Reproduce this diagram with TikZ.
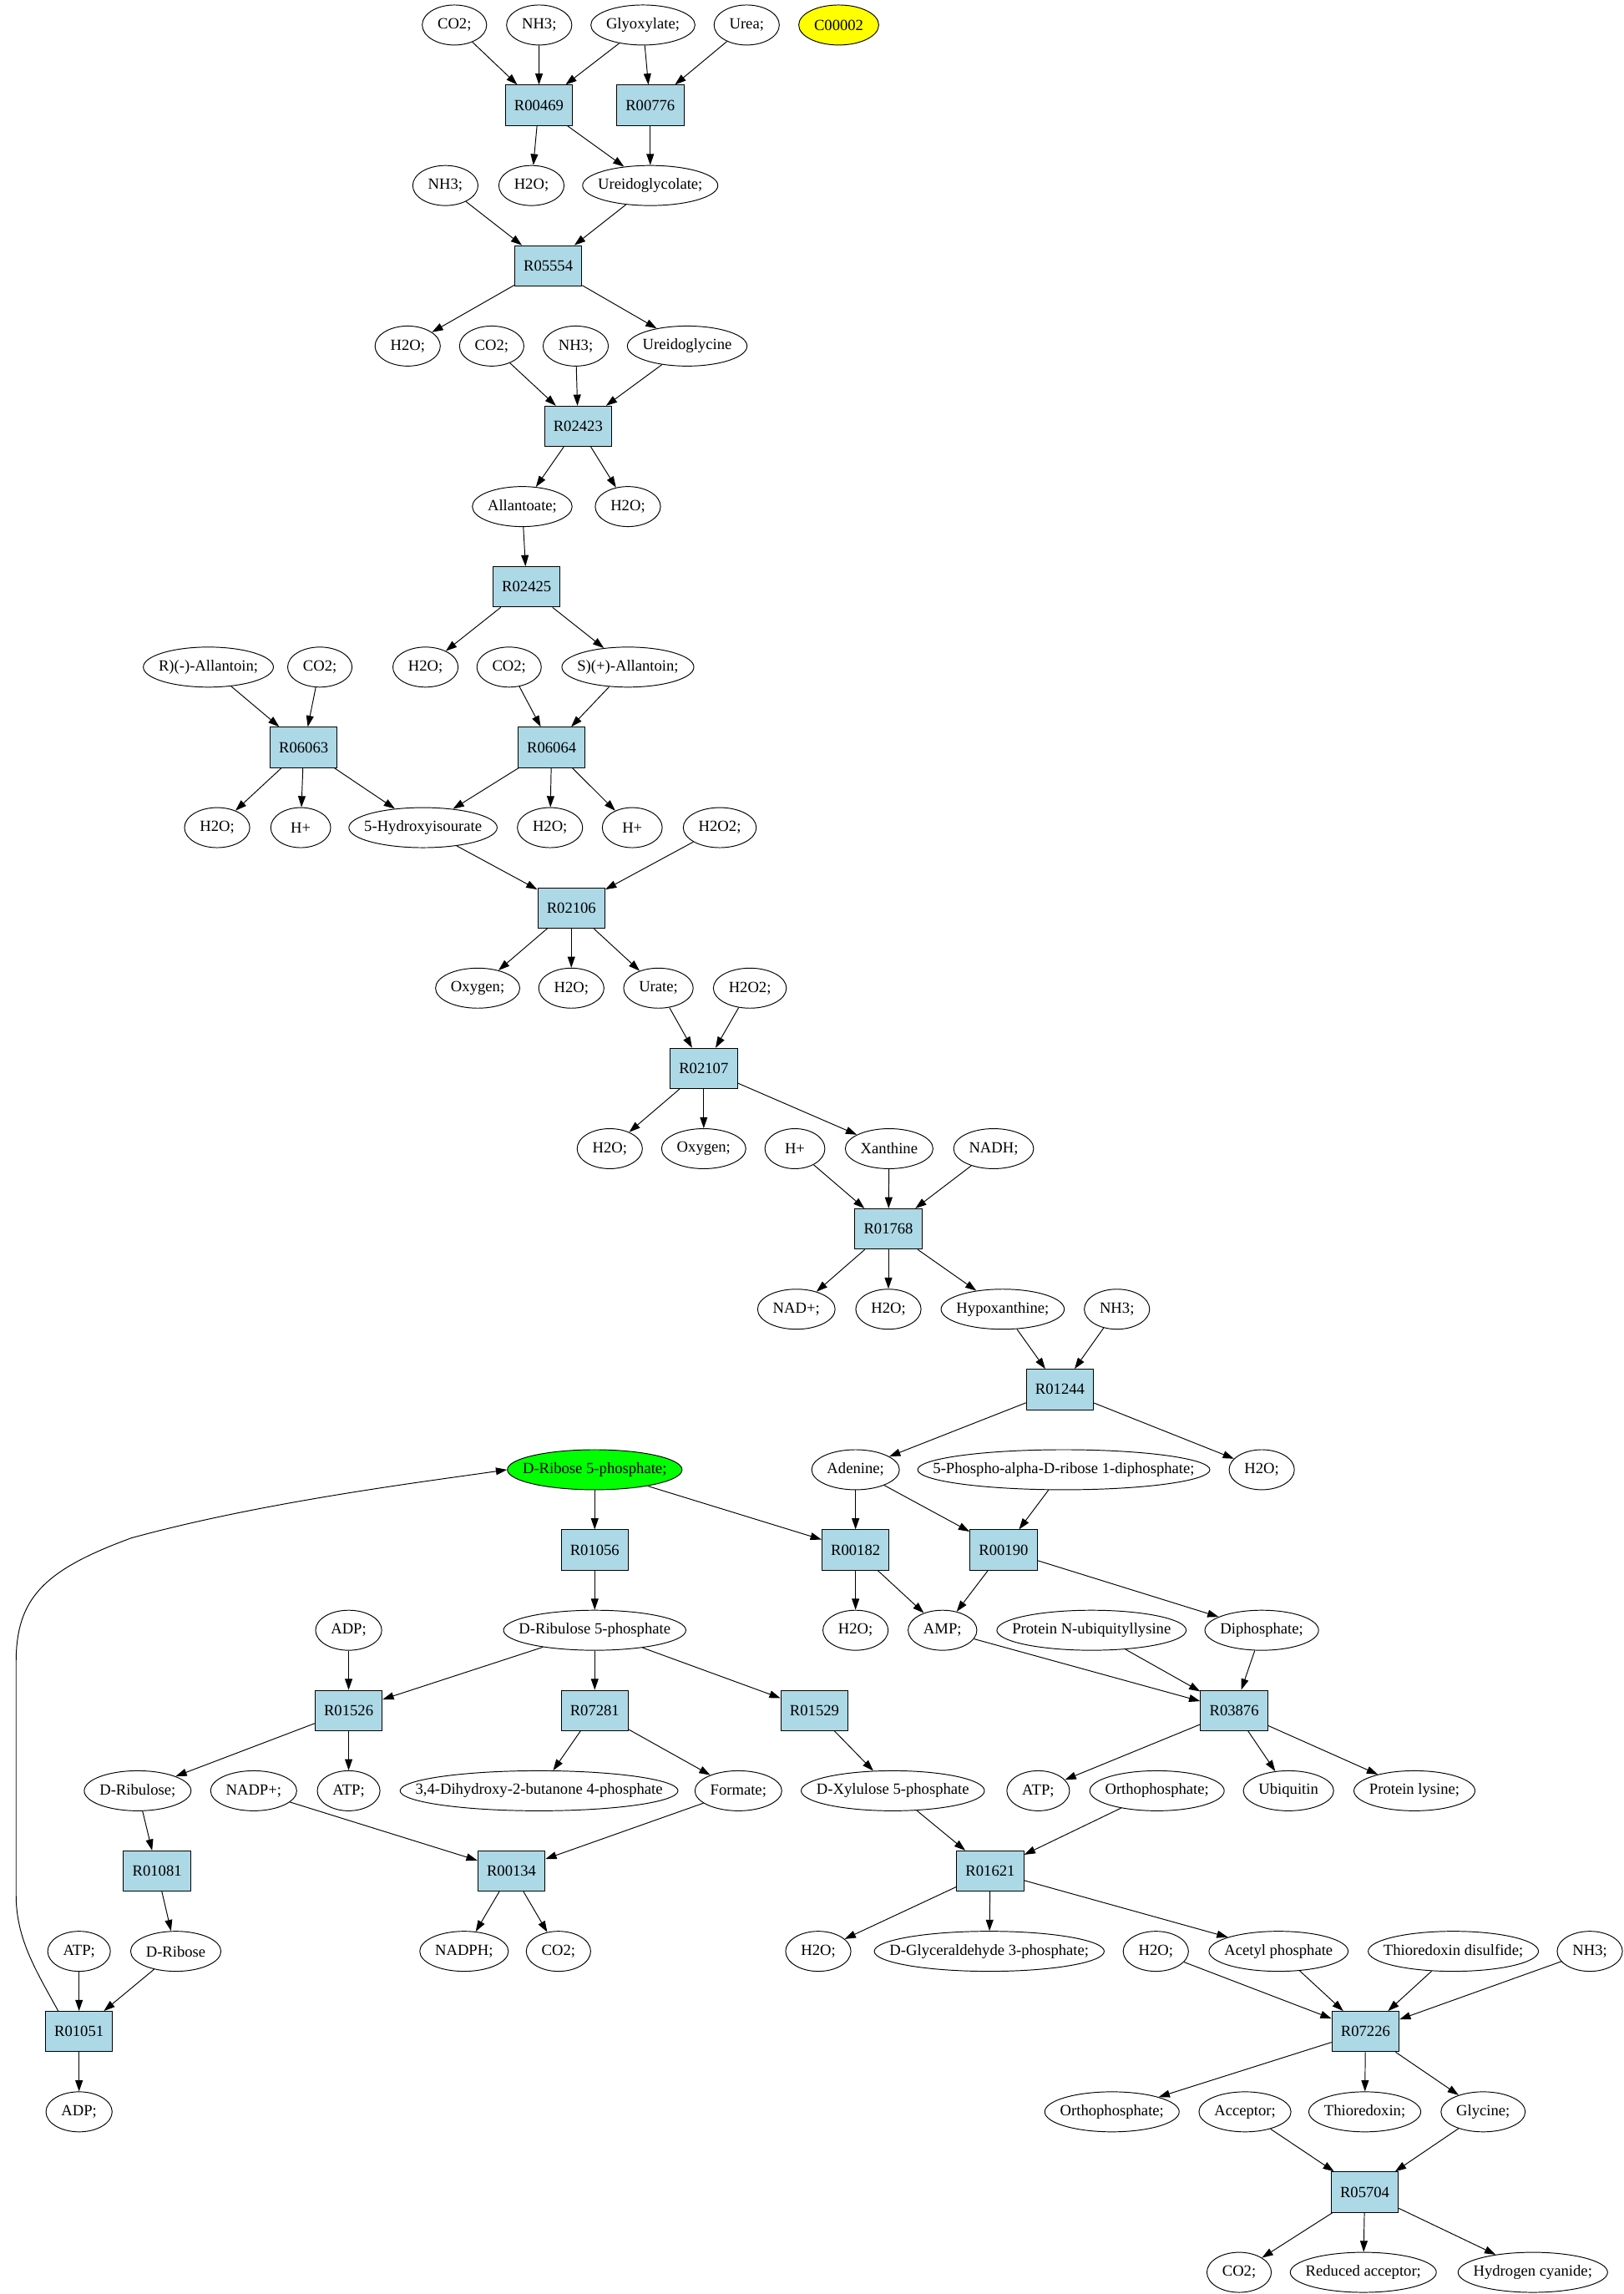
\documentclass[tikz,border=0pt]{standalone}
\usepackage{fontspec}
\setmainfont{Liberation Serif}
\usetikzlibrary{shapes.geometric,arrows.meta}
\definecolor{rxnblue}{HTML}{ADD8E6}
\definecolor{hitgreen}{HTML}{00FF00}
\definecolor{hityellow}{HTML}{FFFF00}
% ellipse label: ellipse width = text width plus a fixed margin
\newcommand\cl[1]{\makebox[\dimexpr0.7071\width+14.85pt\relax]{#1}}
\tikzset{
  cpd/.style={ellipse, draw, line width=0.55pt, inner xsep=0pt, inner ysep=0pt,
    minimum width=41pt, minimum height=27.4pt},
  rxn/.style={rectangle, draw, fill=rxnblue, line width=0.55pt, inner sep=0pt,
    minimum width=46pt, minimum height=27.6pt},
  arr/.style={-{Triangle[length=7.6pt,width=5.1pt]}, line width=0.55pt}
}

\begin{document}
\begin{tikzpicture}[x=1pt, y=-54.92pt, font=\fontsize{10.65}{12}\selectfont]
\useasboundingbox (0,-0.3114) rectangle (1111.4,28.27);

% urea / allantoin branch
\node[cpd] (co2a) at (311,0) {\cl{CO2;}};
\node[cpd] (nh3a) at (369,0) {\cl{NH3;}};
\node[cpd] (glyox) at (440,0) {\cl{Glyoxylate;}};
\node[cpd] (urea) at (511,0) {\cl{Urea;}};
\node[cpd, fill=hityellow] (c00002) at (574,0) {\cl{C00002}};
\node[rxn] (r00469) at (368.8,1) {R00469};
\node[rxn] (r00776) at (445,1) {R00776};
\node[cpd] (nh3b) at (304.8,2) {\cl{NH3;}};
\node[cpd] (h2oa) at (363.7,2) {\cl{H2O;}};
\node[cpd] (uglyc) at (445,2) {\cl{Ureidoglycolate;}};
\node[rxn] (r05554) at (375.2,3) {R05554};
\node[cpd] (h2ob) at (279,4) {\cl{H2O;}};
\node[cpd] (co2b) at (336.5,4) {\cl{CO2;}};
\node[cpd] (nh3c) at (394,4) {\cl{NH3;}};
\node[cpd] (uglycine) at (470.3,4) {\cl{Ureidoglycine}};
\node[rxn] (r02423) at (395.6,5) {R02423};
\node[cpd] (allantoate) at (357.4,6) {\cl{Allantoate;}};
\node[cpd] (h2oc) at (429.7,6) {\cl{H2O;}};
\node[rxn] (r02425) at (360.4,7) {R02425};
\node[cpd] (rallan) at (142.6,8) {\cl{R)(-)-Allantoin;}};
\node[cpd] (co2c) at (218.9,8) {\cl{CO2;}};
\node[cpd] (h2od) at (291.2,8) {\cl{H2O;}};
\node[cpd] (co2d) at (348.4,8) {\cl{CO2;}};
\node[cpd] (sallan) at (429.7,8) {\cl{S)(+)-Allantoin;}};
\node[rxn] (r06063) at (207.8,9) {R06063};
\node[rxn] (r06064) at (377.5,9) {R06064};
\node[cpd] (h2oe) at (148.6,10) {\cl{H2O;}};
\node[cpd] (hpa) at (205.8,10) {\cl{H+}};
\node[cpd] (hiu) at (289.5,10) {\cl{5-Hydroxyisourate}};
\node[cpd] (h2of) at (376.4,10) {\cl{H2O;}};
\node[cpd] (hpb) at (432.7,10) {\cl{H+}};
\node[cpd] (h2o2a) at (492.6,10) {\cl{H2O2;}};
\node[rxn] (r02106) at (391,11) {R02106};
\node[cpd] (oxya) at (326.9,12) {\cl{Oxygen;}};
\node[cpd] (h2og) at (391,12) {\cl{H2O;}};
\node[cpd] (urate) at (450.6,12) {\cl{Urate;}};
\node[cpd] (h2o2b) at (513.2,12) {\cl{H2O2;}};
\node[rxn] (r02107) at (481.6,13) {R02107};
\node[cpd] (h2oh) at (417.3,14) {\cl{H2O;}};
\node[cpd] (oxyb) at (481.6,14) {\cl{Oxygen;}};
\node[cpd] (hpc) at (544,14) {\cl{H+}};
\node[cpd] (xanthine) at (608.5,14) {\cl{Xanthine}};
\node[cpd] (nadh) at (680,14) {\cl{NADH;}};
\node[rxn] (r01768) at (608,15) {R01768};
\node[cpd] (nadplus) at (545,16) {\cl{NAD+;}};
\node[cpd] (h2oi) at (608,16) {\cl{H2O;}};
\node[cpd] (hypox) at (686.2,16) {\cl{Hypoxanthine;}};
\node[cpd] (nh3d) at (764.4,16) {\cl{NH3;}};
\node[rxn] (r01244) at (725.4,17) {R01244};

% ribose / purine salvage branch
\node[cpd, fill=hitgreen] (r5p) at (407,18) {\cl{D-Ribose 5-phosphate;}};
\node[cpd] (adenine) at (585.5,18) {\cl{Adenine;}};
\node[cpd] (prpp) at (728,18) {\cl{5-Phospho-alpha-D-ribose 1-diphosphate;}};
\node[cpd] (h2oj) at (863.5,18) {\cl{H2O;}};
\node[rxn] (r01056) at (407,19) {R01056};
\node[rxn] (r00182) at (585.5,19) {R00182};
\node[rxn] (r00190) at (686.8,19) {R00190};
\node[cpd] (adpa) at (238.6,20) {\cl{ADP;}};
\node[cpd] (ru5p) at (407,20) {\cl{D-Ribulose 5-phosphate}};
\node[cpd] (h2ok) at (585.5,20) {\cl{H2O;}};
\node[cpd] (amp) at (645,20) {\cl{AMP;}};
\node[cpd] (protnub) at (747,20) {\cl{Protein N-ubiquityllysine}};
\node[cpd] (diphos) at (863.5,20) {\cl{Diphosphate;}};
\node[rxn] (r01526) at (238.6,21) {R01526};
\node[rxn] (r07281) at (407,21) {R07281};
\node[rxn] (r01529) at (557.4,21) {R01529};
\node[rxn] (r03876) at (844.6,21) {R03876};
\node[cpd] (ribulose) at (94.2,22) {\cl{D-Ribulose;}};
\node[cpd] (nadpa) at (173.6,22) {\cl{NADP+;}};
\node[cpd] (atpa) at (238.6,22) {\cl{ATP;}};
\node[cpd] (dhbp) at (368.9,22) {\cl{3,4-Dihydroxy-2-butanone 4-phosphate}};
\node[cpd] (formate) at (505.3,22) {\cl{Formate;}};
\node[cpd] (xu5p) at (611,22) {\cl{D-Xylulose 5-phosphate}};
\node[cpd] (atpb) at (710.5,22) {\cl{ATP;}};
\node[cpd] (orthoa) at (791.8,22) {\cl{Orthophosphate;}};
\node[cpd] (ubiq) at (881.8,22) {\cl{Ubiquitin}};
\node[cpd] (protlys) at (968,22) {\cl{Protein lysine;}};
\node[rxn] (r01081) at (107.5,23) {R01081};
\node[rxn] (r00134) at (350,23) {R00134};
\node[rxn] (r01621) at (677.7,23) {R01621};
\node[cpd] (atpc) at (54.1,24) {\cl{ATP;}};
\node[cpd] (ribose) at (120.3,24) {\cl{D-Ribose}};
\node[cpd] (nadph) at (317.6,24) {\cl{NADPH;}};
\node[cpd] (co2e) at (382.2,24) {\cl{CO2;}};
\node[cpd] (h2ol) at (560,24) {\cl{H2O;}};
\node[cpd] (gap) at (677,24) {\cl{D-Glyceraldehyde 3-phosphate;}};
\node[cpd] (h2om) at (791,24) {\cl{H2O;}};
\node[cpd] (acp) at (875,24) {\cl{Acetyl phosphate}};
\node[cpd] (trxss) at (994.6,24) {\cl{Thioredoxin disulfide;}};
\node[cpd] (nh3e) at (1088,24) {\cl{NH3;}};
\node[rxn] (r01051) at (54.1,25) {R01051};
\node[rxn] (r07226) at (934.5,25) {R07226};
\node[cpd] (adpb) at (54.1,26) {\cl{ADP;}};
\node[cpd] (orthob) at (761,26) {\cl{Orthophosphate;}};
\node[cpd] (acceptor) at (852,26) {\cl{Acceptor;}};
\node[cpd] (trx) at (934,26) {\cl{Thioredoxin;}};
\node[cpd] (glycine) at (1015,26) {\cl{Glycine;}};
\node[rxn] (r05704) at (934,27) {R05704};
\node[cpd] (co2f) at (848,28) {\cl{CO2;}};
\node[cpd] (redacc) at (933,28) {\cl{Reduced acceptor;}};
\node[cpd] (hcn) at (1049,28) {\cl{Hydrogen cyanide;}};

% connectors
\draw[arr] (co2a) -- (r00469);
\draw[arr] (nh3a) -- (r00469);
\draw[arr] (glyox) -- (r00469);
\draw[arr] (glyox) -- (r00776);
\draw[arr] (urea) -- (r00776);
\draw[arr] (r00469) -- (h2oa);
\draw[arr] (r00469) -- (uglyc);
\draw[arr] (r00776) -- (uglyc);
\draw[arr] (nh3b) -- (r05554);
\draw[arr] (uglyc) -- (r05554);
\draw[arr] (r05554) -- (h2ob);
\draw[arr] (r05554) -- (uglycine);
\draw[arr] (co2b) -- (r02423);
\draw[arr] (nh3c) -- (r02423);
\draw[arr] (uglycine) -- (r02423);
\draw[arr] (r02423) -- (allantoate);
\draw[arr] (r02423) -- (h2oc);
\draw[arr] (allantoate) -- (r02425);
\draw[arr] (r02425) -- (h2od);
\draw[arr] (r02425) -- (sallan);
\draw[arr] (rallan) -- (r06063);
\draw[arr] (co2c) -- (r06063);
\draw[arr] (co2d) -- (r06064);
\draw[arr] (sallan) -- (r06064);
\draw[arr] (r06063) -- (h2oe);
\draw[arr] (r06063) -- (hpa);
\draw[arr] (r06063) -- (hiu);
\draw[arr] (r06064) -- (hiu);
\draw[arr] (r06064) -- (h2of);
\draw[arr] (r06064) -- (hpb);
\draw[arr] (hiu) -- (r02106);
\draw[arr] (h2o2a) -- (r02106);
\draw[arr] (r02106) -- (oxya);
\draw[arr] (r02106) -- (h2og);
\draw[arr] (r02106) -- (urate);
\draw[arr] (urate) -- (r02107);
\draw[arr] (h2o2b) -- (r02107);
\draw[arr] (r02107) -- (h2oh);
\draw[arr] (r02107) -- (oxyb);
\draw[arr] (r02107) -- (xanthine);
\draw[arr] (hpc) -- (r01768);
\draw[arr] (xanthine) -- (r01768);
\draw[arr] (nadh) -- (r01768);
\draw[arr] (r01768) -- (nadplus);
\draw[arr] (r01768) -- (h2oi);
\draw[arr] (r01768) -- (hypox);
\draw[arr] (hypox) -- (r01244);
\draw[arr] (nh3d) -- (r01244);
\draw[arr] (r01244) -- (adenine);
\draw[arr] (r01244) -- (h2oj);
\draw[arr] (adenine) -- (r00182);
\draw[arr] (adenine) -- (r00190);
\draw[arr] (prpp) -- (r00190);
\draw[arr] (r5p) -- (r00182);
\draw[arr] (r5p) -- (r01056);
\draw[arr] (r00182) -- (h2ok);
\draw[arr] (r00182) -- (amp);
\draw[arr] (r00190) -- (amp);
\draw[arr] (r00190) -- (diphos);
\draw[arr] (amp) -- (r03876);
\draw[arr] (protnub) -- (r03876);
\draw[arr] (diphos) -- (r03876);
\draw[arr] (r03876) -- (atpb);
\draw[arr] (r03876) -- (ubiq);
\draw[arr] (r03876) -- (protlys);
\draw[arr] (r01056) -- (ru5p);
\draw[arr] (ru5p) -- (r01526);
\draw[arr] (ru5p) -- (r07281);
\draw[arr] (ru5p) -- (r01529);
\draw[arr] (adpa) -- (r01526);
\draw[arr] (r01526) -- (ribulose);
\draw[arr] (r01526) -- (atpa);
\draw[arr] (r07281) -- (dhbp);
\draw[arr] (r07281) -- (formate);
\draw[arr] (r01529) -- (xu5p);
\draw[arr] (ribulose) -- (r01081);
\draw[arr] (nadpa) -- (r00134);
\draw[arr] (formate) -- (r00134);
\draw[arr] (r01081) -- (ribose);
\draw[arr] (r00134) -- (nadph);
\draw[arr] (r00134) -- (co2e);
\draw[arr] (xu5p) -- (r01621);
\draw[arr] (orthoa) -- (r01621);
\draw[arr] (r01621) -- (h2ol);
\draw[arr] (r01621) -- (gap);
\draw[arr] (r01621) -- (acp);
\draw[arr] (atpc) -- (r01051);
\draw[arr] (ribose) -- (r01051);
\draw[arr] (r01051) -- (adpb);
\draw[arr] ([xshift=9pt]r01051.north west) .. controls (25,24.25) and (11,23.85) .. (11,23.3)
  -- (11,20.4) .. controls (11,19.6) and (30,19.25) .. (90,18.85)
  .. controls (180,18.4) and (290,18.15) .. (r5p.west);
\draw[arr] (h2om) -- (r07226);
\draw[arr] (acp) -- (r07226);
\draw[arr] (trxss) -- (r07226);
\draw[arr] (nh3e) -- (r07226);
\draw[arr] (r07226) -- (orthob);
\draw[arr] (r07226) -- (trx);
\draw[arr] (r07226) -- (glycine);
\draw[arr] (acceptor) -- (r05704);
\draw[arr] (glycine) -- (r05704);
\draw[arr] (r05704) -- (co2f);
\draw[arr] (r05704) -- (redacc);
\draw[arr] (r05704) -- (hcn);

\end{tikzpicture}
\end{document}
